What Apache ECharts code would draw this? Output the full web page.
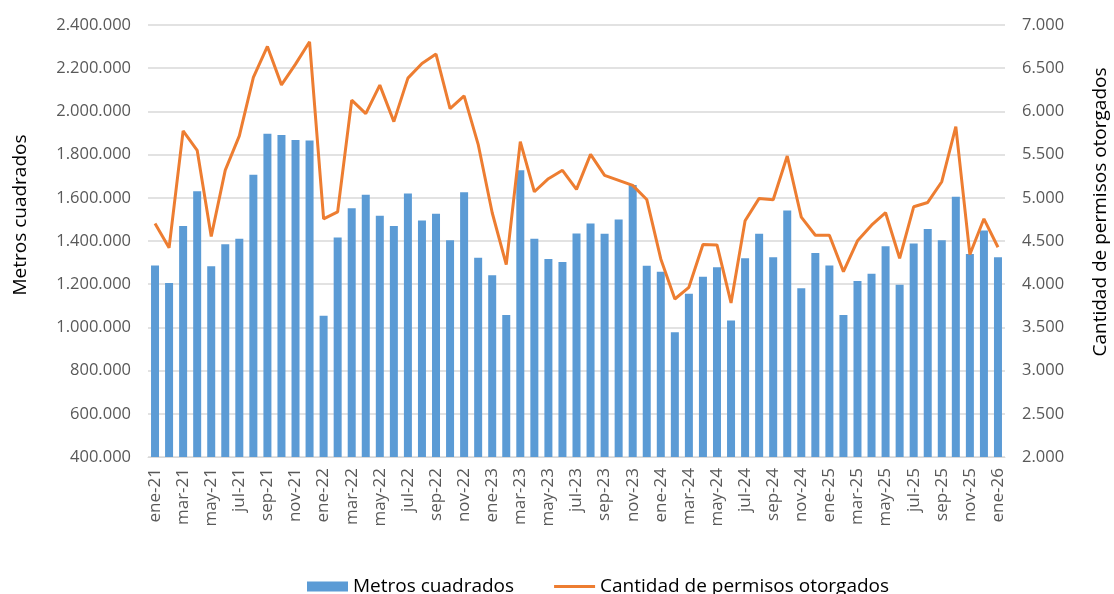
<!DOCTYPE html>
<html>
<head>
<meta charset="utf-8">
<script src="https://cdn.jsdelivr.net/npm/echarts@6/dist/echarts.min.js"></script>
<style>
html,body{margin:0;padding:0;background:#fff;}
#chart{width:1114px;height:594px;}
</style>
</head>
<body>
<div id="chart"></div>
<script>
const categories = [
  'ene-21','feb-21','mar-21','abr-21','may-21','jun-21','jul-21','ago-21','sep-21','oct-21','nov-21','dic-21',
  'ene-22','feb-22','mar-22','abr-22','may-22','jun-22','jul-22','ago-22','sep-22','oct-22','nov-22','dic-22',
  'ene-23','feb-23','mar-23','abr-23','may-23','jun-23','jul-23','ago-23','sep-23','oct-23','nov-23','dic-23',
  'ene-24','feb-24','mar-24','abr-24','may-24','jun-24','jul-24','ago-24','sep-24','oct-24','nov-24','dic-24',
  'ene-25','feb-25','mar-25','abr-25','may-25','jun-25','jul-25','ago-25','sep-25','oct-25','nov-25','dic-25',
  'ene-26'
];
const metrosCuadrados = [
  1286000,1206000,1469000,1630000,1283000,1385000,1410000,1707000,1896000,1891000,1868000,1865000,
  1054000,1416000,1552000,1614000,1517000,1470000,1620000,1495000,1526000,1404000,1626000,1322000,
  1241000,1057000,1728000,1410000,1317000,1303000,1435000,1481000,1433000,1500000,1659000,1285000,
  1258000,978000,1156000,1234000,1278000,1032000,1320000,1433000,1325000,1541000,1181000,1345000,
  1286000,1057000,1215000,1248000,1376000,1198000,1388000,1455000,1404000,1605000,1340000,1449000,
  1325000
];
const permisos = [
  4703,4421,5774,5550,4552,5321,5716,6393,6752,6307,6547,6806,
  4757,4838,6130,5975,6304,5882,6385,6555,6663,6033,6180,5619,
  4827,4227,5650,5070,5221,5318,5097,5503,5260,5202,5144,4981,
  4293,3829,3964,4459,4455,3783,4734,4993,4977,5484,4776,4567,
  4567,4146,4502,4683,4827,4300,4896,4946,5186,5824,4343,4757,
  4428
];
const seriesNames = ['Metros cuadrados', 'Cantidad de permisos otorgados'];

const FONT = '"Open Sans", sans-serif';
const TXT = '#595959';
function fmt(v){ return String(Math.round(v)).replace(/\B(?=(\d{3})+(?!\d))/g, '.'); }

const chart = echarts.init(document.getElementById('chart'), null, {renderer:'canvas'});
chart.setOption({
  animation: false,
  backgroundColor: '#ffffff',
  textStyle: { fontFamily: FONT, color: TXT },
  grid: { left: 148, right: 109, top: 25, bottom: 137, containLabel: false },
  legend: {
    left: 302, top: 572,
    itemWidth: 41, itemHeight: 10, itemGap: 40,
    textStyle: { fontFamily: FONT, fontSize: 19, color: '#000000' },
    data: [
      { name: seriesNames[0], icon: 'rect' },
      { name: seriesNames[1], icon: 'path://M0,0 H41 V3 H0 Z', itemStyle: { color: '#ED7D31' } }
    ]
  },
  xAxis: {
    type: 'category',
    data: categories,
    boundaryGap: true,
    axisLine: { show: true, lineStyle: { color: '#D9D9D9', width: 1 } },
    axisTick: { show: false },
    axisLabel: { interval: 1, rotate: 90, margin: 11, fontSize: 17, color: TXT, fontFamily: FONT }
  },
  yAxis: [
    {
      type: 'value', min: 400000, max: 2400000, interval: 200000,
      axisLine: { show: false }, axisTick: { show: false },
      axisLabel: { formatter: fmt, fontSize: 16.5, color: TXT, fontFamily: FONT, margin: 17 },
      splitLine: { show: true, lineStyle: { color: '#D9D9D9', width: 1.5 } }
    },
    {
      type: 'value', min: 2000, max: 7000, interval: 500,
      axisLine: { show: false }, axisTick: { show: false },
      axisLabel: { formatter: fmt, fontSize: 16.5, color: TXT, fontFamily: FONT, margin: 17 },
      splitLine: { show: false }
    }
  ],
  graphic: [
    { type: 'text', x: 21, y: 215, rotation: Math.PI/2,
      style: { text: 'Metros cuadrados', fontFamily: FONT, fontSize: 19, fill: '#000000', align: 'center', verticalAlign: 'middle' } },
    { type: 'text', x: 1101, y: 212, rotation: Math.PI/2,
      style: { text: 'Cantidad de permisos otorgados', fontFamily: FONT, fontSize: 19, fill: '#000000', align: 'center', verticalAlign: 'middle' } }
  ],
  series: [
    {
      name: seriesNames[0], type: 'bar', yAxisIndex: 0,
      data: metrosCuadrados, barWidth: 8,
      itemStyle: { color: '#5B9BD5' }
    },
    {
      name: seriesNames[1], type: 'line', yAxisIndex: 1,
      data: permisos, symbol: 'none', showSymbol: false,
      lineStyle: { color: '#ED7D31', width: 3 },
      itemStyle: { color: '#ED7D31' }
    }
  ]
});
</script>
</body>
</html>
